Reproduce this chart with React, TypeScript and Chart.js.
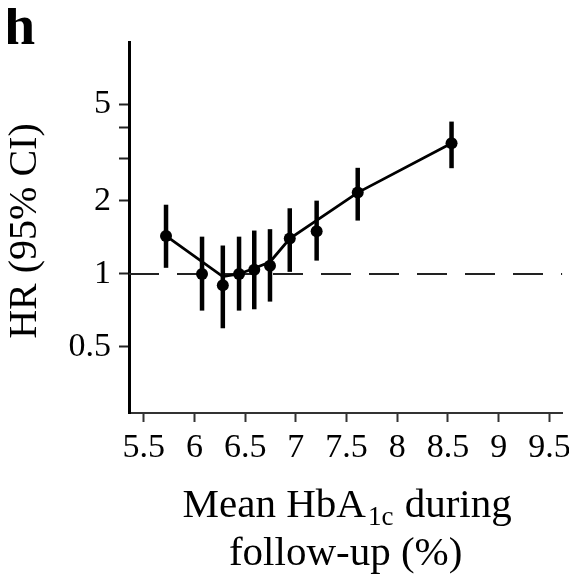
import React, { useEffect, useRef } from 'react';
import { Chart, registerables } from 'chart.js';

Chart.register(...registerables);

// Mean HbA1c category midpoints (%) and hazard ratios with 95% CI
const HBA1C = [5.72, 6.075, 6.28, 6.44, 6.59, 6.745, 6.94, 7.205, 7.61, 8.535];
const HR = [1.435, 1.0, 0.898, 1.0, 1.04, 1.08, 1.4, 1.5, 2.165, 3.46];
const CI_LOW = [1.06, 0.706, 0.597, 0.706, 0.715, 0.769, 1.02, 1.135, 1.66, 2.73];
const CI_HIGH = [1.93, 1.425, 1.31, 1.425, 1.51, 1.53, 1.866, 2.006, 2.74, 4.25];

// Fitted curve
const FIT_X = [5.72, 6.28, 6.44, 6.59, 6.745, 6.94, 7.61, 8.535];
const FIT_Y = [1.435, 0.975, 1.0, 1.055, 1.12, 1.4, 2.165, 3.46];

// Axes
const X_TICKS = [5.5, 6, 6.5, 7, 7.5, 8, 8.5, 9, 9.5];
const Y_TICKS = [0.5, 1, 2, 3, 4, 5];
const Y_TICK_LABELS = ['0.5', '1', '2', '', '', '5'];
const X_MIN = 5.355;
const X_MAX = 9.627;
const Y_MIN = 0.267;
const Y_MAX = 9.05;
const REF_HR = 1;

const Y_TITLE = 'HR (95% CI)';
const X_TITLE_MAIN = 'Mean HbA';
const X_TITLE_SUB = '1c';
const X_TITLE_END = ' during';
const X_TITLE_LINE2 = 'follow-up (%)';
const PANEL = 'h';

const FONT = '"Liberation Serif", "Times New Roman", serif';

const overlayPlugin = {
  id: 'overlay',
  afterDatasetsDraw(chart: any) {
    const { ctx, scales } = chart;
    const xs = scales.x;
    const ys = scales.y;
    ctx.save();
    ctx.strokeStyle = '#000';
    ctx.lineWidth = 4.5;
    ctx.lineCap = 'butt';
    for (let i = 0; i < HBA1C.length; i++) {
      const px = xs.getPixelForValue(HBA1C[i]);
      ctx.beginPath();
      ctx.moveTo(px, ys.getPixelForValue(CI_LOW[i]));
      ctx.lineTo(px, ys.getPixelForValue(CI_HIGH[i]));
      ctx.stroke();
    }
    ctx.restore();
  },
  afterDraw(chart: any) {
    const { ctx, chartArea } = chart;
    ctx.save();
    ctx.fillStyle = '#000';
    // panel letter
    ctx.font = `bold 56px ${FONT}`;
    ctx.textAlign = 'left';
    ctx.textBaseline = 'alphabetic';
    ctx.fillText(PANEL, 4, 44);

    // y title
    ctx.save();
    ctx.font = `40px ${FONT}`;
    ctx.translate(36, 231);
    ctx.rotate(-Math.PI / 2);
    ctx.textAlign = 'center';
    ctx.fillText(Y_TITLE, 0, 0);
    ctx.restore();

    // x title
    const cx = (chartArea.left + chartArea.right) / 2;
    const mainFont = `41px ${FONT}`;
    const subFont = `27px ${FONT}`;
    ctx.font = mainFont;
    const w1 = ctx.measureText(X_TITLE_MAIN).width;
    const w3 = ctx.measureText(X_TITLE_END).width;
    ctx.font = subFont;
    const w2 = ctx.measureText(X_TITLE_SUB).width;
    const total = w1 + w2 + w3 + 2;
    const x0 = cx - total / 2 + 1;
    const base1 = 517;
    ctx.textAlign = 'left';
    ctx.font = mainFont;
    ctx.fillText(X_TITLE_MAIN, x0, base1);
    ctx.font = subFont;
    ctx.fillText(X_TITLE_SUB, x0 + w1 + 2, base1 + 8);
    ctx.font = mainFont;
    ctx.fillText(X_TITLE_END, x0 + w1 + w2 + 3, base1);
    ctx.textAlign = 'center';
    ctx.fillText(X_TITLE_LINE2, cx, 565);
    ctx.restore();
  },
};

export default function App() {
  const ref = useRef<HTMLCanvasElement>(null);
  useEffect(() => {
    if (!ref.current) return;
    const chart = new Chart(ref.current, {
      type: 'line',
      data: {
        datasets: [
          {
            data: [
              { x: X_MIN, y: REF_HR },
              { x: X_MAX, y: REF_HR },
            ],
            borderColor: '#222',
            borderWidth: 2,
            borderDash: [30, 18],
            pointRadius: 0,
            order: 3,
          },
          {
            data: FIT_X.map((x, i) => ({ x, y: FIT_Y[i] })),
            borderColor: '#000',
            borderWidth: 2.8,
            pointRadius: 0,
            order: 2,
          },
          {
            data: HBA1C.map((x, i) => ({ x, y: HR[i] })),
            showLine: false,
            pointRadius: 6,
            pointBackgroundColor: '#000',
            pointBorderColor: '#000',
            pointBorderWidth: 0,
            order: 1,
          },
        ],
      },
      options: {
        animation: false,
        responsive: false,
        devicePixelRatio: 1,
        layout: { padding: { top: 42, right: 11, left: 0, bottom: 0 } },
        plugins: { legend: { display: false }, tooltip: { enabled: false } },
        scales: {
          x: {
            type: 'linear',
            min: X_MIN,
            max: X_MAX,
            afterBuildTicks: (s: any) => {
              s.ticks = X_TICKS.map((v) => ({ value: v }));
            },
            afterFit: (s: any) => {
              s.height = 171;
            },
            ticks: {
              callback: (v: any) => String(v),
              font: { family: FONT, size: 34 },
              color: '#000',
              padding: 6,
              maxRotation: 0,
              autoSkip: false,
            },
            grid: {
              drawOnChartArea: false,
              drawTicks: true,
              tickLength: 9,
              tickWidth: 2,
              tickColor: '#333',
            },
            border: { display: true, color: '#333', width: 2 },
          },
          y: {
            type: 'logarithmic',
            min: Y_MIN,
            max: Y_MAX,
            afterBuildTicks: (s: any) => {
              s.ticks = Y_TICKS.map((v) => ({ value: v }));
            },
            afterFit: (s: any) => {
              s.width = 129;
            },
            ticks: {
              callback: (v: any) => {
                const i = Y_TICKS.indexOf(Number(v));
                return i >= 0 ? Y_TICK_LABELS[i] : '';
              },
              font: { family: FONT, size: 34 },
              color: '#000',
              padding: 8,
              autoSkip: false,
            },
            grid: {
              drawOnChartArea: false,
              drawTicks: true,
              tickLength: 10,
              tickWidth: 2,
              tickColor: '#222',
            },
            border: { display: true, color: '#000', width: 3 },
          },
        },
      },
      plugins: [overlayPlugin],
    });
    return () => chart.destroy();
  }, []);
  return (
    <div style={{ position: 'relative', margin: '-8px', width: 577, height: 584 }}>
      <canvas ref={ref} width={577} height={584} style={{ display: 'block', width: 577, height: 584 }} />
    </div>
  );
}
